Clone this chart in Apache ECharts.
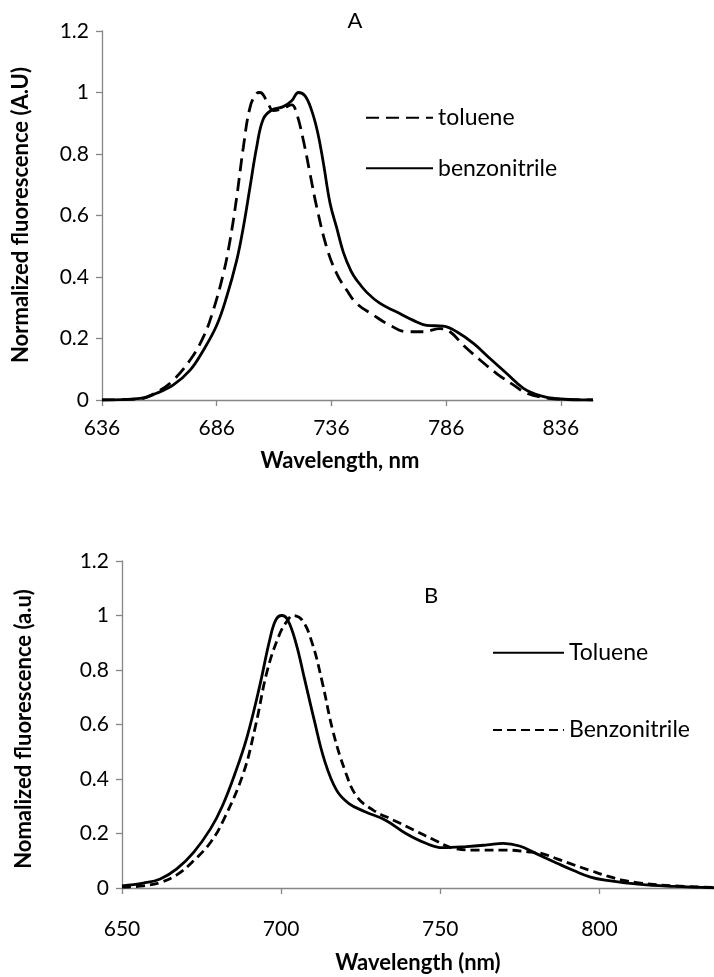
<!DOCTYPE html>
<html>
<head>
<meta charset="utf-8">
<script src="https://cdn.jsdelivr.net/npm/echarts@6/dist/echarts.min.js"></script>
<style>
html,body{margin:0;padding:0;background:#fff;}
#chart{width:714px;height:977px;}
</style>
</head>
<body>
<div id="chart"></div>
<script>
// ---- Chart A data ----
var xTicksA = [636, 686, 736, 786, 836];
var wlA_toluene = [636,652.6,661.3,667.1,674.4,680.2,684.5,688.9,691.8,694.7,697.6,700.5,703.4,704.9,707.8,710.7,715,718.7,720.9,723.8,726.7,729.6,733.9,738.3,742.7,747,754.3,761.5,768.8,776.1,783.3,787.7,793.5,800.8,808,815.3,821.1,828.4,837.1,850];
var flA_toluene = [0,0.004,0.032,0.065,0.13,0.205,0.292,0.411,0.519,0.659,0.822,0.951,0.997,1.0,0.973,0.941,0.949,0.96,0.93,0.843,0.735,0.627,0.497,0.411,0.357,0.314,0.276,0.243,0.222,0.222,0.232,0.222,0.178,0.13,0.086,0.049,0.022,0.008,0.002,0];
var wlA_benzo = [636,652.6,659.8,667.1,674.4,680.2,686,690.3,694.7,697.6,700.5,703.4,706.3,710,715,718.7,721.6,724.5,727.4,730,732.5,735.4,738.3,741.2,744.5,747,751.4,757.2,764.5,771.7,777.5,784.8,790.6,797.9,805.1,812.4,819.7,826.9,834.2,850];
var flA_benzo = [0,0.005,0.022,0.049,0.097,0.162,0.243,0.335,0.454,0.562,0.692,0.822,0.914,0.943,0.954,0.973,1.0,0.989,0.941,0.87,0.77,0.64,0.56,0.48,0.42,0.39,0.35,0.314,0.286,0.259,0.243,0.24,0.222,0.184,0.135,0.086,0.038,0.014,0.004,0];

// ---- Chart B data ----
var xTicksB = [650, 700, 750, 800];
var wlB_toluene = [650,656.7,662,667.2,672.5,677.8,681.5,685.5,689.3,693.2,696.4,698.3,700.2,702.1,704.7,707.2,710.4,713.6,717.4,721.3,726.4,732.8,739.2,745.5,750.7,758.3,764.7,769.8,774.9,780,786.5,791.9,797.2,802.4,812.9,823.4,836];
var flB_toluene = [0.008,0.018,0.033,0.07,0.131,0.217,0.3,0.42,0.555,0.738,0.91,0.983,1.0,0.983,0.897,0.775,0.616,0.469,0.359,0.31,0.28,0.249,0.2,0.164,0.148,0.152,0.158,0.164,0.154,0.127,0.092,0.064,0.04,0.028,0.013,0.006,0.001];
var wlB_benzo = [650,656.7,662,667.2,672.5,677.8,682,688.1,691.9,695.7,699.6,702.1,703.6,706.6,709.8,713,716.2,720,723.8,728.9,735.3,741.7,748.1,754.5,762.2,771.1,777.5,781.4,786.7,791.9,797.2,802.4,807.6,812.9,823.4,836];
var flB_benzo = [0.003,0.008,0.02,0.048,0.1,0.167,0.252,0.42,0.592,0.8,0.934,0.983,1.0,0.983,0.897,0.751,0.579,0.433,0.335,0.286,0.249,0.213,0.176,0.145,0.139,0.139,0.133,0.128,0.107,0.085,0.064,0.044,0.028,0.018,0.008,0.002];

function zip(xs, ys){ return xs.map(function(x,i){ return [x, ys[i]]; }); }

var FONT = 'Lato';
var AX = '#868686';
var tickFont = {fontFamily: FONT, fontSize: 21, color: '#000'};

function xAxisCfg(grid, min, max, ticks, margin){
  return {
    type:'value', gridIndex:grid, min:min, max:max,
    axisLine:{show:true, onZero:false, lineStyle:{color:AX, width:1.3}},
    axisTick:{show:true, length:6, lineStyle:{color:AX, width:1.3}, customValues: ticks},
    axisLabel:Object.assign({margin:margin, customValues: ticks}, tickFont),
    splitLine:{show:false}
  };
}
function yAxisCfg(grid){
  return {
    type:'value', gridIndex:grid, min:0, max:1.2, interval:0.2,
    axisLine:{show:true, lineStyle:{color:AX, width:1.3}},
    axisTick:{show:true, length:6, lineStyle:{color:AX, width:1.3}},
    axisLabel:Object.assign({margin:13, formatter:function(v){ return String(+v.toFixed(1)); }}, tickFont),
    splitLine:{show:false}
  };
}
var legendItem = {color:'rgba(0,0,0,0)', borderWidth:0, opacity:0};

var chart = echarts.init(document.getElementById('chart'), null, {renderer:'canvas'});
chart.setOption({
  animation:false,
  backgroundColor:'#fff',
  grid:[
    {left:102, top:31, width:491, height:369},
    {left:122, top:561, width:592, height:327}
  ],
  xAxis:[ xAxisCfg(0, 636, 850, xTicksA, 18), xAxisCfg(1, 650, 836, xTicksB, 31) ],
  yAxis:[ yAxisCfg(0), yAxisCfg(1) ],
  legend:[
    {data:['toluene','benzonitrile'], orient:'vertical', left:360, top:100.7, itemWidth:67, itemHeight:24, itemGap:26.6,
     itemStyle:legendItem, textStyle:{fontFamily:FONT, fontSize:23, lineHeight:24, color:'#000'}},
    {data:['Toluene','Benzonitrile'], orient:'vertical', left:487, top:635.7, itemWidth:71, itemHeight:24, itemGap:53.3,
     itemStyle:legendItem, textStyle:{fontFamily:FONT, fontSize:23, lineHeight:24, color:'#000'}}
  ],
  series:[
    {name:'toluene', type:'line', xAxisIndex:0, yAxisIndex:0, data:zip(wlA_toluene, flA_toluene), smooth:0.4, symbol:'none',
     itemStyle:{color:'#000'}, lineStyle:{color:'#000', width:2.8, type:[13,7]}},
    {name:'benzonitrile', type:'line', xAxisIndex:0, yAxisIndex:0, data:zip(wlA_benzo, flA_benzo), smooth:0.4, symbol:'none',
     itemStyle:{color:'#000'}, lineStyle:{color:'#000', width:2.8, type:'solid'}},
    {name:'Toluene', type:'line', xAxisIndex:1, yAxisIndex:1, data:zip(wlB_toluene, flB_toluene), smooth:0.4, symbol:'none',
     itemStyle:{color:'#000'}, lineStyle:{color:'#000', width:2.8, type:'solid'}},
    {name:'Benzonitrile', type:'line', xAxisIndex:1, yAxisIndex:1, data:zip(wlB_benzo, flB_benzo), smooth:0.4, symbol:'none',
     itemStyle:{color:'#000'}, lineStyle:{color:'#000', width:2.8, type:[9,5]}}
  ],
  graphic:[
    {type:'text', x:355, y:21, style:{text:'A', font:'22px Lato', fill:'#000', align:'center', verticalAlign:'middle'}},
    {type:'text', x:431, y:596, style:{text:'B', font:'22px Lato', fill:'#000', align:'center', verticalAlign:'middle'}},
    {type:'text', x:340, y:461, style:{text:'Wavelength, nm', font:'bold 22px Lato', fill:'#000', align:'center', verticalAlign:'middle'}},
    {type:'text', x:418, y:963, style:{text:'Wavelength (nm)', font:'bold 22px Lato', fill:'#000', align:'center', verticalAlign:'middle'}},
    {type:'text', x:21, y:215, rotation:Math.PI/2, style:{text:'Normalized fluorescence (A.U)', font:'bold 22px Lato', fill:'#000', align:'center', verticalAlign:'middle'}},
    {type:'text', x:24, y:729, rotation:Math.PI/2, style:{text:'Nomalized fluorescence (a.u)', font:'bold 22px Lato', fill:'#000', align:'center', verticalAlign:'middle'}}
  ]
});
</script>
</body>
</html>
